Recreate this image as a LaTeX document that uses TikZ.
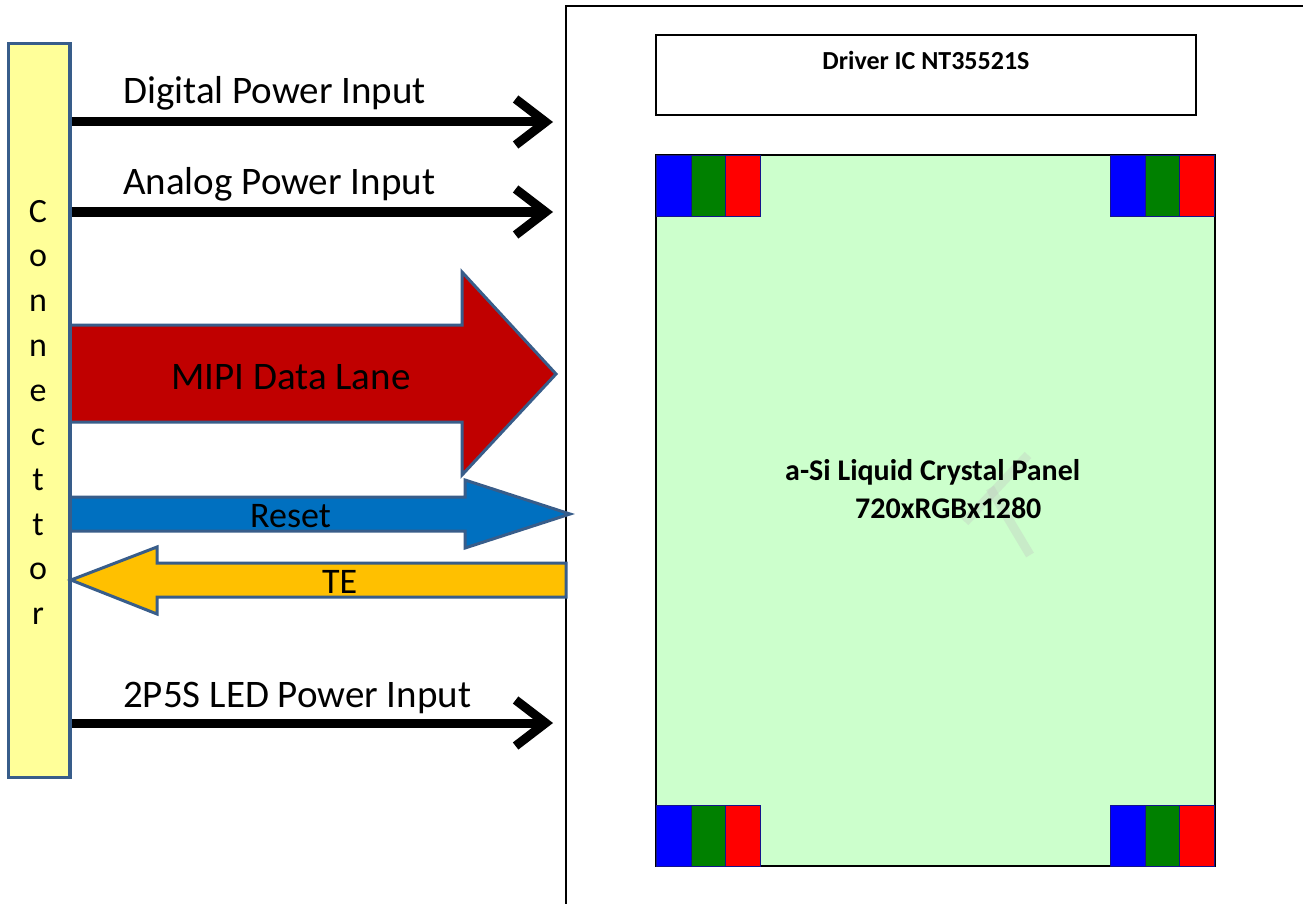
\documentclass[tikz,border=0pt]{standalone}
\usepackage{fontspec}
\setmainfont{Carlito}
\usetikzlibrary{arrows.meta}
\definecolor{edgeblue}{RGB}{56,93,138}
\definecolor{connfill}{RGB}{255,255,153}
\definecolor{mipired}{RGB}{192,0,0}
\definecolor{resetblue}{RGB}{0,112,192}
\definecolor{teorange}{RGB}{255,192,0}
\definecolor{panelgreen}{RGB}{204,255,204}
\definecolor{rgbB}{RGB}{0,0,255}
\definecolor{rgbG}{RGB}{0,128,0}
\definecolor{rgbR}{RGB}{255,0,0}
\definecolor{navyedge}{RGB}{20,20,140}
\tikzset{
  pwr/.style={line width=9pt, -{Straight Barb[length=30pt,width=46pt]}},
  blockarrow/.style={draw=edgeblue, line width=3pt, line join=miter},
  bigtext/.style={font=\fontsize{39}{44}\selectfont, inner sep=0pt, anchor=base west},
  midtext/.style={font=\fontsize{36}{40}\selectfont, inner sep=0pt, anchor=base west},
  boldtext/.style={font=\bfseries\fontsize{30}{34}\selectfont, inner sep=0pt, anchor=base west},
  subpix/.style={draw=navyedge, line width=0.8pt},
}
\begin{document}
\begin{tikzpicture}[x=1pt,y=-1pt]
\useasboundingbox (0,0) rectangle (1303,904);
\fill[white] (0,0) rectangle (1303,904);

% outer module frame
\draw[line width=1.5pt] (566,904) -- (566,6) -- (1303,6);

% driver IC box
\node[draw, line width=1.2pt, minimum width=540pt, minimum height=80pt, inner sep=0pt] (driver) at (926,75) {};
\node[font=\bfseries\fontsize{26}{30}\selectfont, inner sep=0pt, anchor=base] (drvlbl) at (926,70) {Driver IC NT35521S};

% panel
\node[draw, fill=panelgreen, line width=2pt, minimum width=559pt, minimum height=711pt, inner sep=0pt] (panel) at (935.5,510.5) {};
% RGB sub-pixels
\foreach \x/\y in {656/155, 1110/155, 656/805, 1110/805} {
  \fill[rgbB] (\x,\y) rectangle ++(35,61);
  \fill[rgbG] (\x+35,\y) rectangle ++(34,61);
  \fill[rgbR] (\x+69,\y) rectangle ++(35,61);
  \draw[subpix] (\x,\y) rectangle ++(35,61);
  \draw[subpix] (\x+35,\y) rectangle ++(34,61);
  \draw[subpix] (\x+69,\y) rectangle ++(35,61);
}
% faint watermark mark
\draw[gray!50, opacity=0.3, line width=9pt] (1028,455) -- (965,522);
\draw[gray!50, opacity=0.3, line width=9pt] (990,488) -- (1030,555);

\node[boldtext] (p1) at (785,480) {a-Si Liquid Crystal Panel};
\node[boldtext] (p2) at (855,518) {720xRGBx1280};

% connector
\node[draw=edgeblue, fill=connfill, line width=3pt, minimum width=61pt, minimum height=733pt, inner sep=0pt] (conn) at (38.5,410.5) {};
\node[font=\fontsize{34}{44.7}\selectfont, align=center, inner sep=0pt, anchor=north] (connlbl) at (38,200) {C\\o\\n\\n\\e\\c\\t\\t\\o\\r};

% power arrows
\coordinate (dpTip) at (553,122);
\coordinate (apTip) at (553,212);
\coordinate (ledTip) at (553,723);
\draw[pwr] (conn.east |- dpTip) -- (dpTip);
\draw[pwr] (conn.east |- apTip) -- (apTip);
\draw[pwr] (conn.east |- ledTip) -- (ledTip);
\node[bigtext] (dpl) at (123,104) {Digital Power Input};
\node[bigtext] (apl) at (123,194) {Analog Power Input};
\node[bigtext] (ledl) at (123,707) {2P5S LED Power Input};

% MIPI block arrow
\draw[blockarrow, fill=mipired] (70,325) -- (462,325) -- (462,272) -- (556,374) -- (462,475) -- (462,422) -- (70,422) -- cycle;
\node[bigtext] (mipil) at (171,389) {MIPI Data Lane};

% Reset block arrow
\draw[blockarrow, fill=resetblue] (70,497) -- (465,497) -- (465,480) -- (570,514) -- (465,548) -- (465,531) -- (70,531) -- cycle;
\node[midtext] (rstl) at (250,527) {Reset};

% TE block arrow
\draw[blockarrow, fill=teorange] (566,563) -- (157,563) -- (157,547) -- (71,580) -- (157,614) -- (157,597) -- (566,597) -- cycle;
\node[midtext] (tel) at (322,593) {TE};

% redraw connector border on top
\draw[edgeblue, line width=3pt] (conn.south east) -- (conn.north east);
\end{tikzpicture}
\end{document}
